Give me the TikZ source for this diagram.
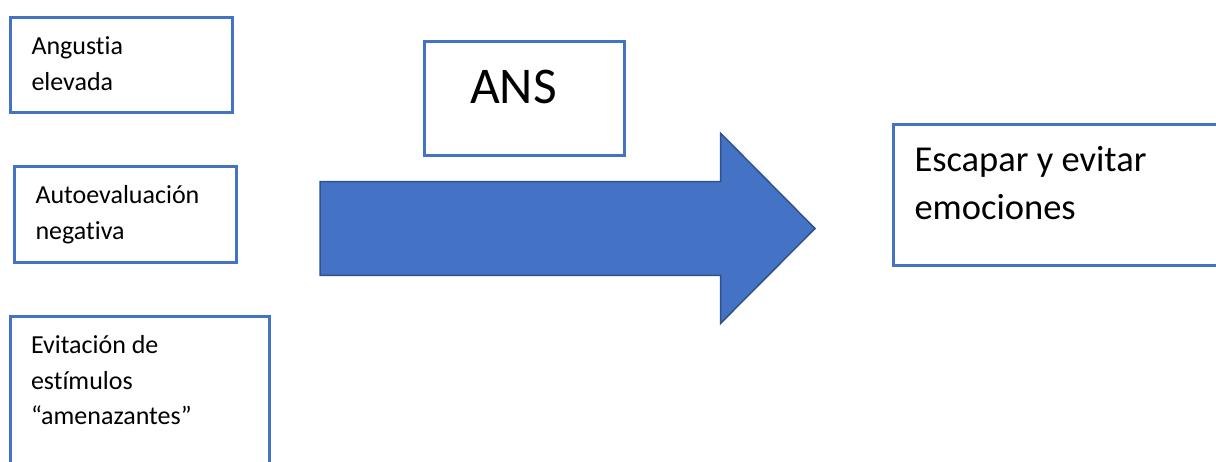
\documentclass[tikz,border=0pt]{standalone}
\usepackage{fontspec}
\setmainfont{Carlito}[Ligatures={NoCommon}]
\definecolor{boxblue}{HTML}{4472C4}
\definecolor{arrowedge}{HTML}{2F528F}
\begin{document}
\begin{tikzpicture}[x=1pt,y=-1pt,
  box/.style={draw=boxblue, line width=3pt, rectangle,
    inner sep=0pt, outer sep=0pt, anchor=north west},
  txt/.style={anchor=base west, inner sep=0pt, outer sep=0pt,
    font=\fontsize{26}{35.3}\selectfont},
  bigtxt/.style={txt, font=\fontsize{36.5}{48.3}\selectfont},
  blockarrow/.style={draw=arrowedge, fill=boxblue, line width=1.5pt, line join=miter}]
\useasboundingbox (0,0) rectangle (1216,462);
\clip (0,0) rectangle (1216,462);

% left column of factors
\node[box, minimum width=222pt, minimum height=95.5pt] (angustia) at (10.5,17.5) {};
\node[txt] (angustiaT) at (31.5,55) {\vtop{\hbox{Angustia}\hbox{elevada}}};

\node[box, minimum width=222pt, minimum height=96pt] (autoeval) at (14.5,166.5) {};
\node[txt] (autoevalT) at (35.5,204) {\vtop{\hbox{Autoevaluación}\hbox{negativa}}};

\node[box, minimum width=259pt, minimum height=180pt] (evitacion) at (10.5,316.5) {};
\node[txt] (evitacionT) at (31,354) {\vtop{\hbox{Evitación de}\hbox{estímulos}\hbox{“amenazantes”}}};

% central label
\node[box, minimum width=200pt, minimum height=114pt] (ans) at (424,41.7) {};
\node[txt, font=\fontsize{51.5}{60}\selectfont] (ansT) at (470,103.3) {ANS};

% outcome
\node[box, minimum width=350pt, minimum height=141.4pt] (escapar) at (893.3,124.3) {};
\node[bigtxt] (escaparT) at (914.5,171.7) {\vtop{\hbox{Escapar y evitar}\hbox{emociones}}};

% block arrow
\coordinate (tailTop) at (320,181.7);
\coordinate (neckTop) at (720.7,181.7);
\coordinate (headTop) at (720.7,133.3);
\coordinate (tip) at (815,228.5);
\coordinate (headBot) at (720.7,323.3);
\coordinate (neckBot) at (720.7,275.3);
\coordinate (tailBot) at (320,275.3);
\draw[blockarrow] (tailTop) -- (neckTop) -- (headTop) -- (tip) -- (headBot)
  -- (neckBot) -- (tailBot) -- cycle;
\end{tikzpicture}
\end{document}
